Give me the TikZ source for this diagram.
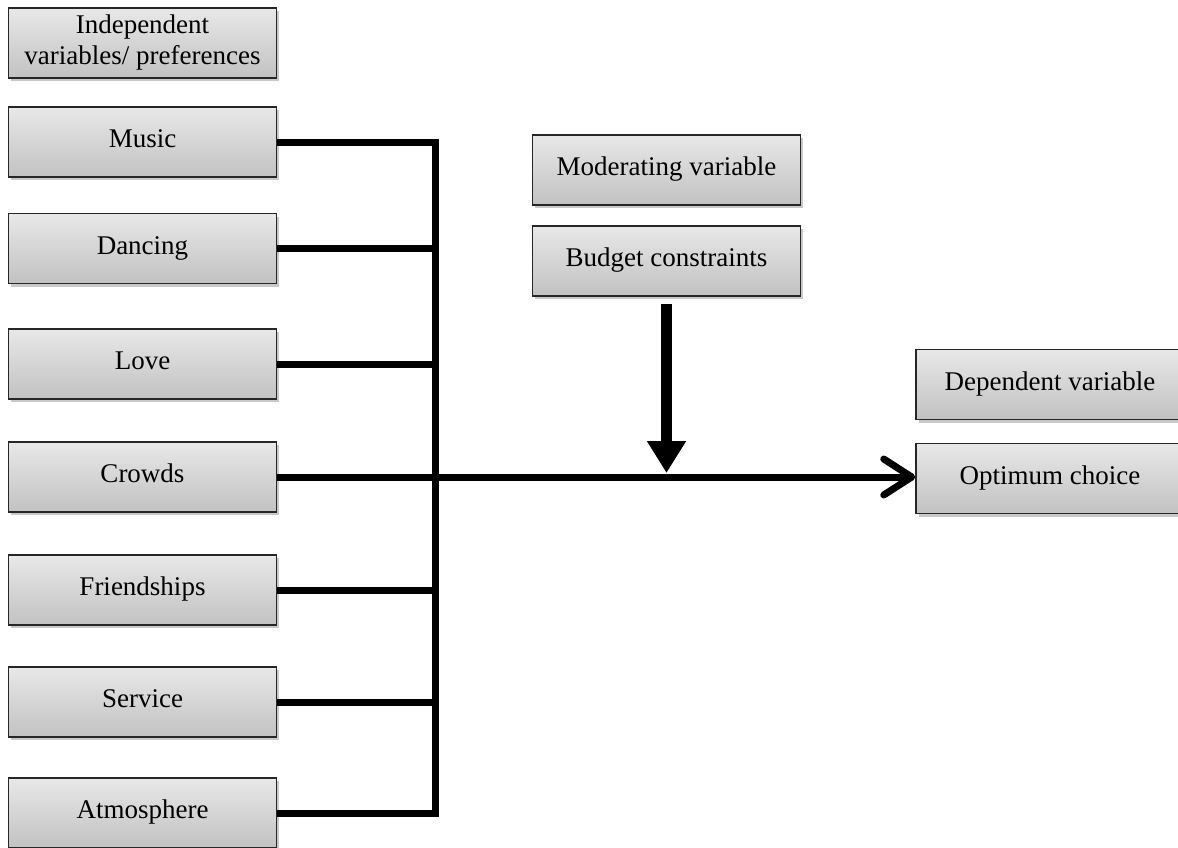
\documentclass[tikz,border=0pt]{standalone}
\usepackage{fontspec}
\setmainfont{Liberation Serif}
\usetikzlibrary{arrows.meta,shadows}
\begin{document}
\begin{tikzpicture}[x=1pt,y=-1pt,
  box/.style={rectangle, draw=black!85, line width=1.5pt,
    top color=black!9, bottom color=black!24,
    minimum width=268pt, minimum height=70pt, inner sep=0pt,
    align=center, text height=18pt, text depth=7pt,
    font=\fontsize{27}{31}\selectfont,
    drop shadow={shadow xshift=2.5pt, shadow yshift=-3pt, opacity=0.35, fill=black!60}},
  twoline/.style={text height=, text depth=},
  link/.style={line width=7pt, black},
  mainarrow/.style={line width=7pt, black, -{Straight Barb[length=28pt,width=36pt,line cap=round,line join=round]}},
  modarrow/.style={line width=11pt, black, -{Triangle[length=32pt,width=37pt]}}
]
\useasboundingbox (0,0) rectangle (1178,847);
\fill[white] (0,0) rectangle (1178,847);

\node[box, twoline] (title) at (142.5,43) {Independent\\variables/ preferences};
\node[box] (music) at (142.5,142) {Music};
\node[box] (dancing) at (142.5,248.5) {Dancing};
\node[box] (love) at (142.5,364) {Love};
\node[box] (crowds) at (142.5,477) {Crowds};
\node[box] (friend) at (142.5,590) {Friendships};
\node[box] (service) at (142.5,702) {Service};
\node[box] (atmos) at (142.5,813) {Atmosphere};

\node[box] (moder) at (666.5,170) {Moderating variable};
\node[box] (budget) at (666.5,261) {Budget constraints};

\node[box] (depvar) at (1050,384.5) {Dependent variable};
\node[box] (optimum) at (1050,478.5) {Optimum choice};

\coordinate (bus) at (435,0);

\draw[link] (music.east) -- (music.east -| bus) -- (atmos.east -| bus) -- (atmos.east);
\draw[link] (dancing.east) -- (dancing.east -| bus);
\draw[link] (love.east) -- (love.east -| bus);
\draw[link] (friend.east) -- (friend.east -| bus);
\draw[link] (service.east) -- (service.east -| bus);
\draw[mainarrow] (crowds.east) -- (crowds.east -| optimum.west);

\coordinate (mj) at (budget.south |- crowds.east);
\draw[modarrow, shorten >=4pt] ([yshift=-7pt]budget.south) -- (mj);
\end{tikzpicture}
\end{document}
